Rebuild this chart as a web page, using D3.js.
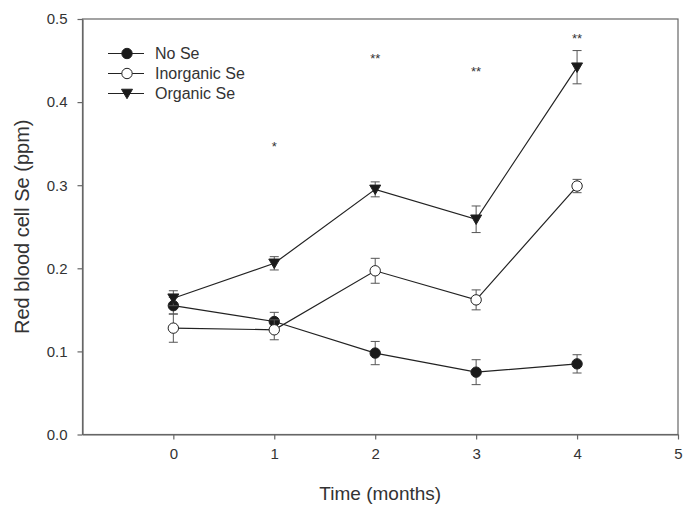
<!DOCTYPE html>
<html>
<head>
<meta charset="utf-8">
<script src="https://cdn.jsdelivr.net/npm/d3@7"></script>
<style>
  html, body { margin: 0; padding: 0; background: #fff; }
  svg { display: block; font-family: "Liberation Sans", Arial, Helvetica, sans-serif; }
</style>
</head>
<body>
<svg id="chart" width="695" height="517"></svg>
<script>
// ---- data ----
const months = [0, 1, 2, 3, 4];
const xTicks = [0, 1, 2, 3, 4, 5];
const yTicks = [0.0, 0.1, 0.2, 0.3, 0.4, 0.5];

const noSe        = [0.155, 0.136, 0.098, 0.075, 0.085];
const noSeErr     = [0.010, 0.011, 0.014, 0.015, 0.011];
const inorganicSe    = [0.128, 0.126, 0.197, 0.162, 0.299];
const inorganicSeErr = [0.017, 0.012, 0.015, 0.012, 0.008];
const organicSe    = [0.164, 0.206, 0.295, 0.259, 0.442];
const organicSeErr = [0.009, 0.008, 0.009, 0.016, 0.020];

const seriesNames = ["No Se", "Inorganic Se", "Organic Se"];
const sigMonths = [1, 2, 3, 4];
const sigLabels = ["*", "**", "**", "**"];
const sigLevels = [0.348, 0.454, 0.439, 0.478];

const xTitle = "Time (months)";
const yTitle = "Red blood cell Se (ppm)";

// ---- layout ----
const svg = d3.select("#chart");
const mLeft = 82.5, mRight = 678, mTop = 19, mBottom = 434.5;

const x = d3.scaleLinear().domain([-0.9, 5]).range([mLeft, mRight]);
const y = d3.scaleLinear().domain([0, 0.5]).range([mBottom, mTop]);

const axisColor = "#666";
const textColor = "#333";
const lineColor = "#222";

// frame
svg.append("rect")
  .attr("x", mLeft).attr("y", mTop)
  .attr("width", mRight - mLeft).attr("height", mBottom - mTop)
  .attr("fill", "none").attr("stroke", axisColor).attr("stroke-width", 1.2);

// axes
const xAxis = svg.append("g")
  .attr("transform", `translate(0,${mBottom})`)
  .call(d3.axisBottom(x).tickValues(xTicks).tickFormat(d3.format("d")).tickSizeInner(5).tickSizeOuter(0).tickPadding(9));
const yAxis = svg.append("g")
  .attr("transform", `translate(${mLeft},0)`)
  .call(d3.axisLeft(y).tickValues(yTicks).tickFormat(d3.format(".1f")).tickSizeInner(5).tickSizeOuter(0).tickPadding(10));

[xAxis, yAxis].forEach(g => {
  g.select(".domain").attr("stroke", axisColor).attr("stroke-width", 1.2);
  g.selectAll(".tick line").attr("stroke", axisColor).attr("stroke-width", 1.2);
  g.selectAll(".tick text").attr("fill", textColor).style("font-size", "15px")
    .style("font-family", '"Liberation Sans", Arial, sans-serif');
});

// titles
svg.append("text")
  .attr("x", (mLeft + mRight) / 2 + 0).attr("y", 500)
  .attr("text-anchor", "middle").attr("fill", textColor)
  .style("font-size", "19px").text(xTitle);

svg.append("text")
  .attr("transform", `translate(29,${(mTop + mBottom) / 2}) rotate(-90)`)
  .attr("text-anchor", "middle").attr("fill", textColor)
  .style("font-size", "20px").text(yTitle);

// ---- series ----
const series = [
  { name: seriesNames[0], vals: noSe, errs: noSeErr, shape: "circle", fill: "#1a1a1a" },
  { name: seriesNames[1], vals: inorganicSe, errs: inorganicSeErr, shape: "circle", fill: "#fff" },
  { name: seriesNames[2], vals: organicSe, errs: organicSeErr, shape: "triangle", fill: "#1a1a1a" }
];

const line = d3.line().x((d, i) => x(months[i])).y(d => y(d));
const capW = 4.5;

function drawMarker(g, shape, fill, cx, cy) {
  if (shape === "circle") {
    g.append("circle").attr("cx", cx).attr("cy", cy).attr("r", 5.2)
      .attr("fill", fill).attr("stroke", "#222").attr("stroke-width", 1);
  } else {
    const w = 5.5, h = 9.5;
    g.append("path")
      .attr("d", `M${cx - w},${cy - h * 0.45} L${cx + w},${cy - h * 0.45} L${cx},${cy + h * 0.55} Z`)
      .attr("fill", fill).attr("stroke", "#222").attr("stroke-width", 1);
  }
}

series.forEach(s => {
  const g = svg.append("g");
  // error bars
  s.vals.forEach((v, i) => {
    const cx = x(months[i]);
    const y1 = y(v + s.errs[i]), y0 = y(v - s.errs[i]);
    g.append("line").attr("x1", cx).attr("x2", cx).attr("y1", y1).attr("y2", y0)
      .attr("stroke", "#555").attr("stroke-width", 1);
    [y1, y0].forEach(yy => g.append("line")
      .attr("x1", cx - capW).attr("x2", cx + capW).attr("y1", yy).attr("y2", yy)
      .attr("stroke", "#555").attr("stroke-width", 1));
  });
  g.append("path").datum(s.vals).attr("d", line)
    .attr("fill", "none").attr("stroke", lineColor).attr("stroke-width", 1.2);
  s.vals.forEach((v, i) => drawMarker(g, s.shape, s.fill, x(months[i]), y(v)));
});

// significance markers
sigMonths.forEach((m, i) => {
  svg.append("text")
    .attr("x", x(m)).attr("y", y(sigLevels[i]) + 6)
    .attr("text-anchor", "middle").attr("fill", textColor)
    .style("font-size", "13px").text(sigLabels[i]);
});

// legend
const legend = svg.append("g");
series.forEach((s, i) => {
  const ly = 53.5 + i * 20;
  legend.append("line").attr("x1", 108).attr("x2", 144).attr("y1", ly).attr("y2", ly)
    .attr("stroke", lineColor).attr("stroke-width", 1.2);
  drawMarker(legend, s.shape, s.fill, 127, ly);
  legend.append("text").attr("x", 155).attr("y", ly + 5.5)
    .attr("fill", textColor).style("font-size", "16px").text(s.name);
});
</script>
</body>
</html>
